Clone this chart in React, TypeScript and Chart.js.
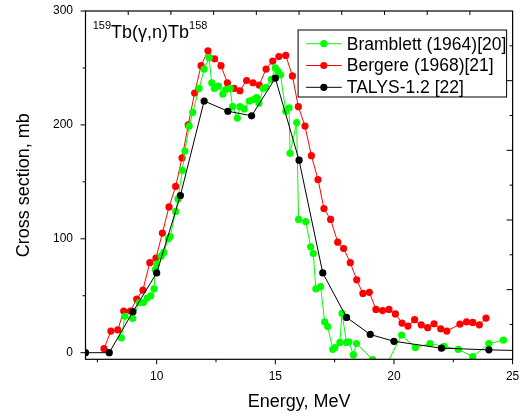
import React, { useEffect, useRef } from 'react';
import { Chart, registerables } from 'chart.js';

Chart.register(...registerables);

// Bramblett (1964) [20]
const brambE = [8.51, 8.66, 8.99, 9.27, 9.44, 9.60, 9.75, 9.89, 9.94, 10.00, 10.19, 10.30, 10.49, 10.57, 10.80, 10.90, 11.08, 11.19, 11.37, 11.52, 11.79, 12.00, 12.21, 12.32, 12.43, 12.60, 12.79, 12.91, 13.09, 13.20, 13.40, 13.51, 13.69, 13.90, 14.06, 14.21, 14.31, 14.49, 14.61, 14.83, 15.00, 15.11, 15.22, 15.44, 15.58, 15.62, 15.90, 15.98, 16.28, 16.49, 16.60, 16.71, 16.91, 17.08, 17.21, 17.42, 17.51, 17.72, 17.81, 18.00, 18.10, 18.29, 18.42, 19.10, 19.50, 20.32, 20.90, 21.52, 22.11, 22.71, 23.32, 24.00, 24.61];
const brambS = [13, 32, 30, 44, 44, 48, 50, 56, 73, 78, 85, 88, 100, 102, 124, 135, 160, 177, 199, 211, 232, 249, 259, 237, 232, 234, 227, 231, 232, 216, 206, 216, 214, 221, 222, 224, 219, 232, 233, 240, 250, 247, 244, 212, 215, 175, 202, 117, 115, 93, 87, 56, 58, 27, 23, 3, 4.5, 9, 34.5, 9, 9.5, -2, 8, -6, -18, 15.5, 4.5, 8, 5.5, 3, -3.5, 8, 11];

// Bergere (1968) [21]
const bergE = [7.78, 8.07, 8.36, 8.61, 8.89, 9.16, 9.42, 9.71, 9.97, 10.24, 10.52, 10.80, 11.07, 11.33, 11.60, 11.87, 12.16, 12.44, 12.71, 12.98, 13.26, 13.51, 13.79, 14.06, 14.32, 14.61, 14.89, 15.15, 15.44, 15.72, 15.97, 16.25, 16.52, 16.80, 17.05, 17.33, 17.63, 17.88, 18.16, 18.43, 18.69, 18.96, 19.24, 19.52, 19.79, 20.06, 20.34, 20.59, 20.87, 21.15, 21.42, 21.69, 21.97, 22.23, 22.78, 23.06, 23.32, 23.60, 23.88];
const bergS = [3.5, 19, 20, 36.5, 36.5, 47, 55, 79, 83, 105, 128, 146, 171, 200, 228, 252, 265, 258, 252, 237, 232, 230, 239, 237, 235, 249, 256, 260, 261, 243, 216, 199, 173, 152, 126.5, 117, 97, 91.5, 79, 64, 52, 53, 38, 37, 38, 34, 26, 23.4, 29, 24.5, 22, 25.4, 21, 19, 25, 27, 26.6, 24.5, 30.4];

// TALYS-1.2 [22]
const talysE = [7, 8, 9, 10, 11, 12, 13, 14, 15, 16, 17, 18, 19, 20, 22, 24, 26];
const talysS = [0, 0, 36, 70, 138, 221, 212, 208, 241, 169, 70, 31, 16, 10, 4, 2.5, 1.5];

const seriesLabels = ['Bramblett (1964)[20]', 'Bergere (1968)[21]', 'TALYS-1.2 [22]'];
const seriesColors = ['#00ff00', '#ff0000', '#000000'];

const xTickValues = [10, 15, 20, 25];
const xMinorValues = [7.5, 12.5, 17.5, 22.5];
const yTickValues = [0, 100, 200, 300];
const yMinorValues = [50, 150, 250];

const xTitle = 'Energy, MeV';
const yTitle = 'Cross section, mb';
const reactionLeft = '159';
const reactionMain = 'Tb(\u03b3,n)Tb';
const reactionRight = '158';

const FONT = '"Liberation Sans", Arial, Helvetica, sans-serif';

const toPoints = (xs: number[], ys: number[]) => xs.map((x, i) => ({ x, y: ys[i] }));

const decorPlugin = {
  id: 'decor',
  afterDraw(chart: any) {
    const { ctx, chartArea: a, scales } = chart;
    const xs = scales.x;
    const ys = scales.y;
    ctx.save();
    // frame
    ctx.strokeStyle = '#000';
    ctx.lineWidth = 1.2;
    ctx.strokeRect(a.left, a.top, a.right - a.left, a.bottom - a.top);
    // ticks
    ctx.lineWidth = 1;
    ctx.beginPath();
    const seg = (x1: number, y1: number, x2: number, y2: number) => {
      ctx.moveTo(x1, y1);
      ctx.lineTo(x2, y2);
    };
    xTickValues.forEach((v) => {
      const p = xs.getPixelForValue(v);
      seg(p, a.bottom, p, a.bottom + 5);
    });
    xMinorValues.forEach((v) => {
      const p = xs.getPixelForValue(v);
      seg(p, a.bottom, p, a.bottom + 3);
    });
    yTickValues.forEach((v) => {
      const p = ys.getPixelForValue(v);
      seg(a.left - 5, p, a.left, p);
    });
    yMinorValues.forEach((v) => {
      const p = ys.getPixelForValue(v);
      seg(a.left - 3, p, a.left, p);
    });
    for (let k = 1; k < 10; k++) {
      const px = xs.getPixelForValue(xs.min + (k * (xs.max - xs.min)) / 10);
      seg(px, a.top, px, a.top + 4);
      const py = ys.getPixelForValue(ys.min + (k * (ys.max - ys.min)) / 10);
      const len = k % 2 === 0 ? 6 : 3;
      seg(a.right - len, py, a.right, py);
    }
    ctx.stroke();

    // reaction label
    ctx.fillStyle = '#000';
    ctx.textBaseline = 'alphabetic';
    ctx.textAlign = 'left';
    let tx = a.left + 7.2;
    ctx.font = `11px ${FONT}`;
    ctx.fillText(reactionLeft, tx, a.top + 18.3);
    tx += ctx.measureText(reactionLeft).width;
    ctx.font = `18px ${FONT}`;
    ctx.fillText(reactionMain, tx, a.top + 27.3);
    tx += ctx.measureText(reactionMain).width;
    ctx.font = `11px ${FONT}`;
    ctx.fillText(reactionRight, tx, a.top + 18.3);

    // legend
    const bw = 208.5;
    const bh = 67;
    const bx = a.right - 6 - bw;
    const by = a.top + 19;
    ctx.fillStyle = '#fff';
    ctx.fillRect(bx, by, bw, bh);
    ctx.strokeStyle = '#000';
    ctx.lineWidth = 1;
    ctx.strokeRect(bx, by, bw, bh);
    ctx.font = `17.5px ${FONT}`;
    ctx.textBaseline = 'middle';
    chart.data.datasets.forEach((ds: any, i: number) => {
      const cy = by + 13.7 + i * 21.8;
      ctx.strokeStyle = ds.borderColor;
      ctx.lineWidth = 1;
      ctx.beginPath();
      ctx.moveTo(bx + 8, cy);
      ctx.lineTo(bx + 43.7, cy);
      ctx.stroke();
      ctx.fillStyle = ds.borderColor;
      ctx.beginPath();
      ctx.arc(bx + 25.7, cy, 3.6, 0, Math.PI * 2);
      ctx.fill();
      ctx.fillStyle = '#000';
      ctx.fillText(ds.label, bx + 48.7, cy + 1);
    });
    ctx.restore();
  },
};

const zeroPad = (s: any) => {
  s.paddingTop = 0;
  s.paddingBottom = 0;
  s.paddingLeft = 0;
  s.paddingRight = 0;
};

export default function App() {
  const ref = useRef<HTMLCanvasElement>(null);
  useEffect(() => {
    if (!ref.current) return;
    const mk = (i: number, xs: number[], ys: number[], order: number) => ({
      label: seriesLabels[i],
      data: toPoints(xs, ys),
      borderColor: seriesColors[i],
      backgroundColor: seriesColors[i],
      pointBackgroundColor: seriesColors[i],
      pointBorderColor: seriesColors[i],
      pointBorderWidth: 0,
      pointRadius: 3.6,
      borderWidth: 1,
      tension: 0,
      order,
    });
    const chart = new Chart(ref.current, {
      type: 'line',
      data: {
        datasets: [mk(0, brambE, brambS, 1), mk(1, bergE, bergS, 2), mk(2, talysE, talysS, 0)],
      },
      plugins: [decorPlugin],
      options: {
        animation: false,
        responsive: false,
        devicePixelRatio: 1,
        layout: { autoPadding: false, padding: { top: 11, right: 14.4, left: 0, bottom: 0 } },
        plugins: { legend: { display: false }, tooltip: { enabled: false } },
        scales: {
          x: {
            type: 'linear',
            min: 7,
            max: 25,
            afterBuildTicks: (s: any) => {
              s.ticks = xTickValues.map((v) => ({ value: v }));
            },
            afterFit: (s: any) => {
              s.height = 56.7;
              zeroPad(s);
            },
            grid: { display: false, drawTicks: false },
            border: { display: false },
            ticks: { color: '#000', padding: 10, maxRotation: 0, font: { family: FONT, size: 12 } },
            title: {
              display: true,
              text: xTitle,
              color: '#000',
              font: { family: FONT, size: 18 },
              padding: { top: 0, bottom: 3 },
            },
          },
          y: {
            type: 'linear',
            min: -5.8,
            max: 300,
            afterBuildTicks: (s: any) => {
              s.ticks = yTickValues.map((v) => ({ value: v }));
            },
            afterFit: (s: any) => {
              s.width = 85.5;
              zeroPad(s);
            },
            grid: { display: false, drawTicks: false },
            border: { display: false },
            ticks: { color: '#000', padding: 12.5, font: { family: FONT, size: 12 } },
            title: {
              display: true,
              text: yTitle,
              color: '#000',
              font: { family: FONT, size: 18 },
              padding: { top: 13, bottom: 0 },
            },
          },
        },
      },
    } as any);
    return () => chart.destroy();
  }, []);
  return (
    <div style={{ position: 'absolute', left: 0, top: 0, width: 527, height: 416, background: '#fff' }}>
      <canvas ref={ref} width={527} height={416} style={{ width: 527, height: 416, display: 'block' }} />
    </div>
  );
}
